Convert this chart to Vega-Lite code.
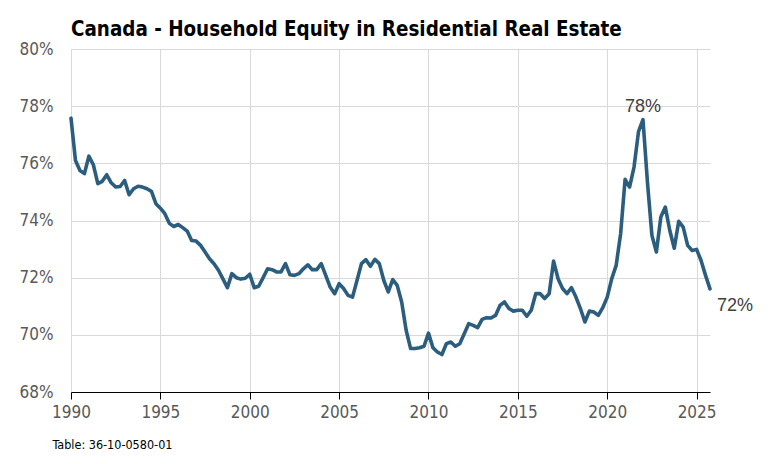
{
  "$schema": "https://vega.github.io/schema/vega-lite/v6.json",
  "width": 639,
  "height": 343,
  "autosize": {"type": "none"},
  "padding": {"left": 71, "top": 49, "right": 58, "bottom": 72},
  "background": "white",
  "config": {"view": {"stroke": null}, "font": "DejaVu Sans Condensed"},
  "title": {
    "text": "Canada - Household Equity in Residential Real Estate",
    "anchor": "start",
    "frame": "group",
    "font": "DejaVu Sans Condensed",
    "fontSize": 20.4,
    "fontWeight": "bold",
    "color": "#000000",
    "offset": 0
  },
  "datasets": {
    "series": [
      {"t": 1990.00, "v": 77.58}, {"t": 1990.25, "v": 76.10}, {"t": 1990.50, "v": 75.75}, {"t": 1990.75, "v": 75.64},
      {"t": 1991.00, "v": 76.25}, {"t": 1991.25, "v": 75.95}, {"t": 1991.50, "v": 75.29}, {"t": 1991.75, "v": 75.37},
      {"t": 1992.00, "v": 75.60}, {"t": 1992.25, "v": 75.32}, {"t": 1992.50, "v": 75.17}, {"t": 1992.75, "v": 75.19},
      {"t": 1993.00, "v": 75.40}, {"t": 1993.25, "v": 74.90}, {"t": 1993.50, "v": 75.11}, {"t": 1993.75, "v": 75.20},
      {"t": 1994.00, "v": 75.17}, {"t": 1994.25, "v": 75.11}, {"t": 1994.50, "v": 75.02}, {"t": 1994.75, "v": 74.59},
      {"t": 1995.00, "v": 74.43}, {"t": 1995.25, "v": 74.24}, {"t": 1995.50, "v": 73.90}, {"t": 1995.75, "v": 73.79},
      {"t": 1996.00, "v": 73.86}, {"t": 1996.25, "v": 73.75}, {"t": 1996.50, "v": 73.63}, {"t": 1996.75, "v": 73.30},
      {"t": 1997.00, "v": 73.28}, {"t": 1997.25, "v": 73.13}, {"t": 1997.50, "v": 72.90}, {"t": 1997.75, "v": 72.66},
      {"t": 1998.00, "v": 72.49}, {"t": 1998.25, "v": 72.26}, {"t": 1998.50, "v": 71.96}, {"t": 1998.75, "v": 71.65},
      {"t": 1999.00, "v": 72.14}, {"t": 1999.25, "v": 72.00}, {"t": 1999.50, "v": 71.95}, {"t": 1999.75, "v": 71.98},
      {"t": 2000.00, "v": 72.12}, {"t": 2000.25, "v": 71.65}, {"t": 2000.50, "v": 71.70}, {"t": 2000.75, "v": 72.00},
      {"t": 2001.00, "v": 72.31}, {"t": 2001.25, "v": 72.28}, {"t": 2001.50, "v": 72.20}, {"t": 2001.75, "v": 72.20},
      {"t": 2002.00, "v": 72.49}, {"t": 2002.25, "v": 72.10}, {"t": 2002.50, "v": 72.08}, {"t": 2002.75, "v": 72.14},
      {"t": 2003.00, "v": 72.31}, {"t": 2003.25, "v": 72.45}, {"t": 2003.50, "v": 72.28}, {"t": 2003.75, "v": 72.28},
      {"t": 2004.00, "v": 72.49}, {"t": 2004.25, "v": 72.08}, {"t": 2004.50, "v": 71.67}, {"t": 2004.75, "v": 71.44},
      {"t": 2005.00, "v": 71.79}, {"t": 2005.25, "v": 71.62}, {"t": 2005.50, "v": 71.38}, {"t": 2005.75, "v": 71.32},
      {"t": 2006.00, "v": 71.90}, {"t": 2006.25, "v": 72.49}, {"t": 2006.50, "v": 72.63}, {"t": 2006.75, "v": 72.40},
      {"t": 2007.00, "v": 72.64}, {"t": 2007.25, "v": 72.49}, {"t": 2007.50, "v": 71.90}, {"t": 2007.75, "v": 71.50},
      {"t": 2008.00, "v": 71.93}, {"t": 2008.25, "v": 71.73}, {"t": 2008.50, "v": 71.15}, {"t": 2008.75, "v": 70.16},
      {"t": 2009.00, "v": 69.52}, {"t": 2009.25, "v": 69.52}, {"t": 2009.50, "v": 69.55}, {"t": 2009.75, "v": 69.60},
      {"t": 2010.00, "v": 70.06}, {"t": 2010.25, "v": 69.55}, {"t": 2010.50, "v": 69.40}, {"t": 2010.75, "v": 69.31},
      {"t": 2011.00, "v": 69.69}, {"t": 2011.25, "v": 69.75}, {"t": 2011.50, "v": 69.60}, {"t": 2011.75, "v": 69.69},
      {"t": 2012.00, "v": 70.04}, {"t": 2012.25, "v": 70.39}, {"t": 2012.50, "v": 70.33}, {"t": 2012.75, "v": 70.25},
      {"t": 2013.00, "v": 70.54}, {"t": 2013.25, "v": 70.60}, {"t": 2013.50, "v": 70.59}, {"t": 2013.75, "v": 70.68},
      {"t": 2014.00, "v": 71.03}, {"t": 2014.25, "v": 71.15}, {"t": 2014.50, "v": 70.92}, {"t": 2014.75, "v": 70.83},
      {"t": 2015.00, "v": 70.86}, {"t": 2015.25, "v": 70.86}, {"t": 2015.50, "v": 70.65}, {"t": 2015.75, "v": 70.86},
      {"t": 2016.00, "v": 71.44}, {"t": 2016.25, "v": 71.44}, {"t": 2016.50, "v": 71.27}, {"t": 2016.75, "v": 71.44},
      {"t": 2017.00, "v": 72.58}, {"t": 2017.25, "v": 71.96}, {"t": 2017.50, "v": 71.62}, {"t": 2017.75, "v": 71.44},
      {"t": 2018.00, "v": 71.65}, {"t": 2018.25, "v": 71.32}, {"t": 2018.50, "v": 70.92}, {"t": 2018.75, "v": 70.45},
      {"t": 2019.00, "v": 70.83}, {"t": 2019.25, "v": 70.80}, {"t": 2019.50, "v": 70.68}, {"t": 2019.75, "v": 70.95},
      {"t": 2020.00, "v": 71.32}, {"t": 2020.25, "v": 71.96}, {"t": 2020.50, "v": 72.43}, {"t": 2020.75, "v": 73.54},
      {"t": 2021.00, "v": 75.44}, {"t": 2021.25, "v": 75.17}, {"t": 2021.50, "v": 75.87}, {"t": 2021.75, "v": 77.11},
      {"t": 2022.00, "v": 77.53}, {"t": 2022.25, "v": 75.34}, {"t": 2022.50, "v": 73.48}, {"t": 2022.75, "v": 72.90},
      {"t": 2023.00, "v": 74.12}, {"t": 2023.25, "v": 74.47}, {"t": 2023.50, "v": 73.65}, {"t": 2023.75, "v": 73.03},
      {"t": 2024.00, "v": 73.97}, {"t": 2024.25, "v": 73.77}, {"t": 2024.50, "v": 73.13}, {"t": 2024.75, "v": 72.95},
      {"t": 2025.00, "v": 72.99}, {"t": 2025.25, "v": 72.60}, {"t": 2025.50, "v": 72.08}, {"t": 2025.75, "v": 71.61}
    ],
    "peak": [{"t": 2022.00, "v": 77.53, "label": "78%"}],
    "last": [{"t": 2025.75, "v": 71.61, "label": "72%"}]
  },
  "encoding": {
    "x": {
      "field": "t",
      "type": "quantitative",
      "scale": {"domain": [1990, 2025.75], "nice": false, "zero": false},
      "axis": {
        "values": [1990, 1995, 2000, 2005, 2010, 2015, 2020, 2025],
        "format": "d",
        "labelFlush": false,
        "labelFont": "DejaVu Sans Condensed",
        "labelFontSize": 17,
        "labelColor": "#595959",
        "labelPadding": 5,
        "domainColor": "#000000",
        "domainWidth": 1,
        "tickColor": "#000000",
        "tickSize": 7,
        "grid": true,
        "gridColor": "#d9d9d9",
        "gridWidth": 1,
        "title": "Table: 36-10-0580-01",
        "titleFont": "DejaVu Sans Condensed",
        "titleFontSize": 12.5,
        "titleFontWeight": "normal",
        "titleColor": "#000000",
        "titleAnchor": "start",
        "titleAlign": "left",
        "titleBaseline": "alphabetic",
        "titleX": -19,
        "titleY": 56
      }
    },
    "y": {
      "field": "v",
      "type": "quantitative",
      "scale": {"domain": [68, 80], "nice": false, "zero": false},
      "axis": {
        "values": [68, 70, 72, 74, 76, 78, 80],
        "labelExpr": "datum.value + '%'",
        "labelFlush": false,
        "labelFont": "DejaVu Sans Condensed",
        "labelFontSize": 17,
        "labelColor": "#595959",
        "labelPadding": 18,
        "domain": false,
        "ticks": false,
        "tickSize": 0,
        "grid": true,
        "gridColor": "#d9d9d9",
        "gridWidth": 1,
        "title": null
      }
    }
  },
  "layer": [
    {
      "data": {"name": "series"},
      "mark": {"type": "line", "color": "#2B5D7E", "strokeWidth": 3.6, "strokeJoin": "round", "strokeCap": "round"}
    },
    {
      "data": {"name": "peak"},
      "mark": {"type": "text", "align": "center", "baseline": "alphabetic", "dy": -8, "font": "Liberation Sans", "fontSize": 18, "color": "#404040"},
      "encoding": {"text": {"field": "label"}}
    },
    {
      "data": {"name": "last"},
      "mark": {"type": "text", "align": "left", "baseline": "alphabetic", "dx": 7, "dy": 22, "font": "Liberation Sans", "fontSize": 18, "color": "#404040"},
      "encoding": {"text": {"field": "label"}}
    }
  ]
}
